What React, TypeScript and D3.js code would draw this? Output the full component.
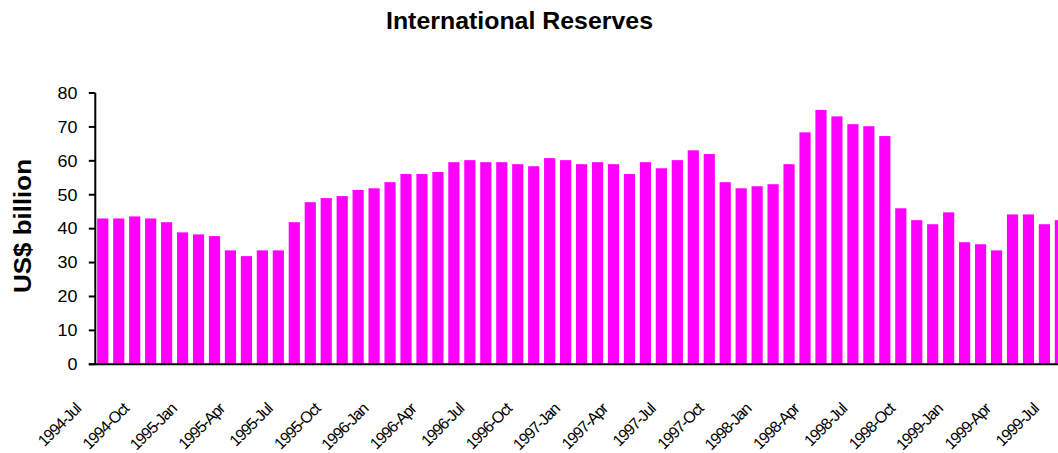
import React from "react";
import * as d3 from "d3";

const months = ["Jan","Feb","Mar","Apr","May","Jun","Jul","Aug","Sep","Oct","Nov","Dec"];
// Monthly categories 1994-Jul .. 1999-Jul
const categories: string[] = (() => {
  const out: string[] = [];
  for (let y = 1994; y <= 1999; y++) {
    for (let m = 0; m < 12; m++) {
      if (y === 1994 && m < 6) continue;
      if (y === 1999 && m > 6) continue;
      out.push(`${y}-${months[m]}`);
    }
  }
  return out;
})();

const reserves: number[] = [
  43.0, 43.0, 43.6, 43.0, 41.9, 38.9, 38.3, 37.8, 33.6, 31.9, 33.6, 33.6,
  41.9, 47.8, 49.0, 49.6, 51.4, 51.9, 53.7, 56.1, 56.1, 56.7, 59.6, 60.2,
  59.6, 59.6, 59.0, 58.4, 60.8, 60.2, 59.0, 59.6, 59.0, 56.1, 59.6, 57.8,
  60.2, 63.1, 62.0, 53.7, 51.9, 52.5, 53.1, 59.0, 68.4, 75.0, 73.1, 70.8,
  70.2, 67.3, 46.0, 42.5, 41.3, 44.8, 36.0, 35.4, 33.6, 44.2, 44.2, 41.3,
  42.5,
];

const yTicks: number[] = [0, 10, 20, 30, 40, 50, 60, 70, 80];
const tickLabelIndices = categories.map((_, i) => i).filter((i) => i % 3 === 0);

const title = "International Reserves";
const yTitle = "US$ billion";

export default function App() {
  const W = 1058, H = 453;
  const plotLeft = 94.8;
  const step = 15.96;
  const plotTop = 93, plotBottom = 364.3;

  const x = d3.scaleBand<string>()
    .domain(categories)
    .range([plotLeft, plotLeft + step * categories.length])
    .paddingInner(0.3)
    .paddingOuter(0.15);
  const y = d3.scaleLinear().domain([0, 80]).range([plotBottom, plotTop]);

  const axisX = plotLeft + 0.5;

  return (
    <svg
      width={W}
      height={H}
      style={{ position: "absolute", left: 0, top: 0, overflow: "hidden", background: "#fff" }}
      fontFamily="Arial, 'Liberation Sans', Helvetica, sans-serif"
    >
      <rect x={0} y={0} width={W} height={H} fill="#fff" />
      <text x={519.5} y={29.3} textAnchor="middle" fontSize={24} fontWeight="bold"
        textLength={267} lengthAdjust="spacingAndGlyphs">{title}</text>

      <text transform={`translate(30.5, 226) rotate(-90)`} textAnchor="middle" fontSize={24}
        fontWeight="bold" textLength={134} lengthAdjust="spacingAndGlyphs">{yTitle}</text>

      {reserves.map((v, i) => (
        <rect key={i} x={x(categories[i])} y={y(v)} width={x.bandwidth()}
          height={y(0) - y(v)} fill="#FF00FF" />
      ))}

      {/* y axis */}
      <line x1={axisX} x2={axisX} y1={y(80)} y2={y(0)} stroke="#000" strokeWidth={2} />
      {yTicks.map((t) => (
        <g key={t}>
          <line x1={axisX - 6.5} x2={axisX} y1={y(t)} y2={y(t)} stroke="#000" strokeWidth={2} />
          <text transform={`translate(77.5, ${y(t) + 5.8}) scale(1.12,1)`} textAnchor="end"
            fontSize={16} fill="#000">{t}</text>
        </g>
      ))}
      {/* x axis */}
      <line x1={axisX - 6.5} x2={W + 20} y1={y(0)} y2={y(0)} stroke="#000" strokeWidth={2} />

      {tickLabelIndices.map((i) => {
        const cx = (x(categories[i]) as number) + x.bandwidth() / 2;
        return (
          <text key={i} transform={`translate(${cx - 21}, 410) rotate(-45)`} textAnchor="end"
            fontSize={16} letterSpacing={-1.1} fill="#000">{categories[i]}</text>
        );
      })}
    </svg>
  );
}
